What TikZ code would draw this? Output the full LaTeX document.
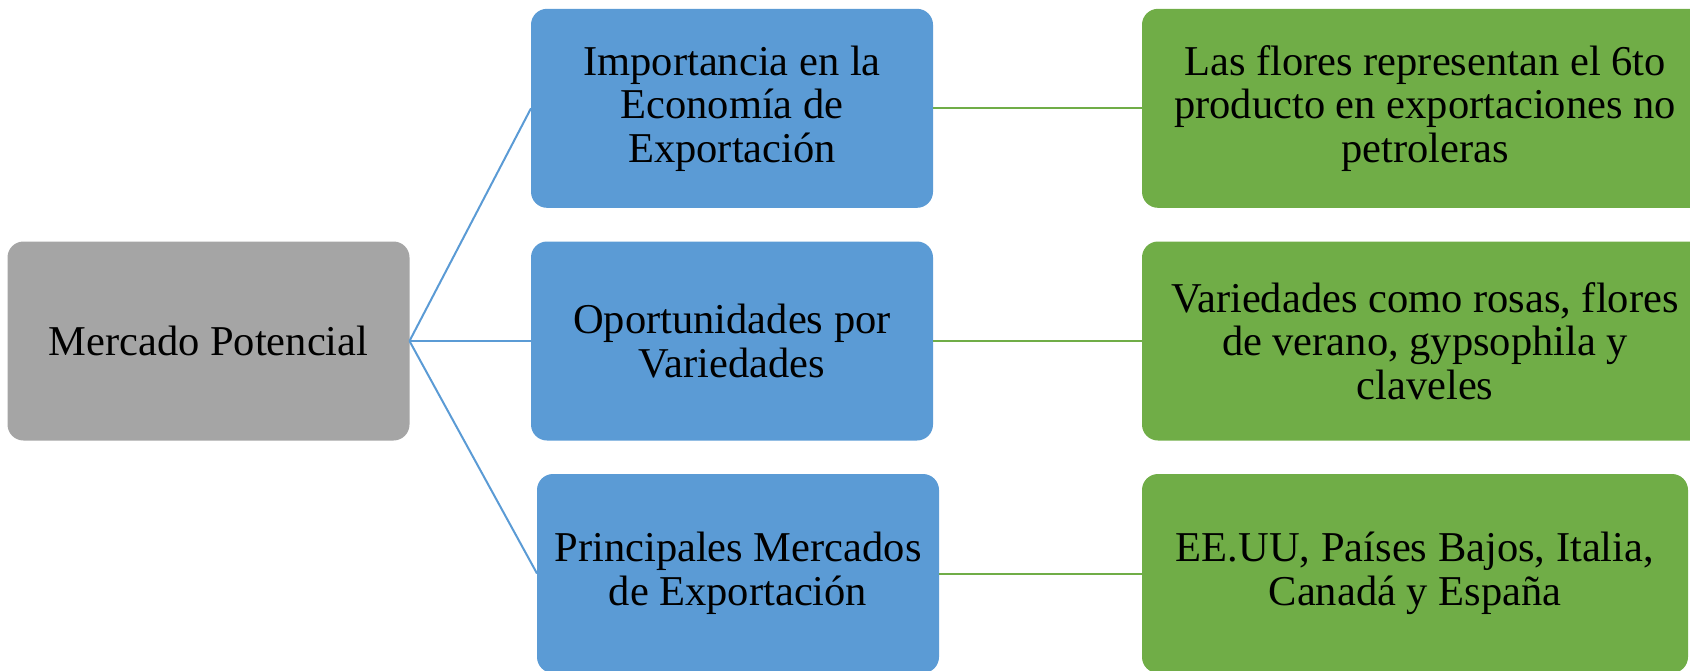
\documentclass[tikz,border=0pt]{standalone}
\usepackage{fontspec}
\setmainfont{Liberation Serif}
\definecolor{boxgray}{HTML}{A5A5A5}
\definecolor{boxblue}{HTML}{5B9BD5}
\definecolor{boxgreen}{HTML}{70AD47}
\tikzset{
  card/.style={rounded corners=16pt, inner sep=0pt, outer sep=0pt, align=center,
    minimum height=199pt, font=\fontsize{42.5}{43.5}\selectfont, text=black},
  rootbox/.style={card, fill=boxgray, minimum width=402pt},
  midbox/.style={card, fill=boxblue, minimum width=402pt},
  leafbox/.style={card, fill=boxgreen},
  bluelink/.style={draw=boxblue, line width=2pt},
  greenlink/.style={draw=boxgreen, line width=2pt}
}
\begin{document}
\begin{tikzpicture}[x=1pt,y=-1pt]
\useasboundingbox (0,0) rectangle (1690,670);
\clip (0,0) rectangle (1690,670);
\node[rootbox] (root) at (208.5,341) {Mercado Potencial};
\node[midbox] (b1) at (732,108.3) {Importancia en la\\Economía de\\Exportación};
\node[midbox] (b2) at (732,341) {Oportunidades por\\Variedades};
\node[midbox] (b3) at (738,573.5) {Principales Mercados\\de Exportación};
\node[leafbox, minimum width=566pt] (g1) at (1425,108.3) {Las flores representan el 6to\\producto en exportaciones no\\petroleras};
\node[leafbox, minimum width=566pt] (g2) at (1425,341) {Variedades como rosas, flores\\de verano, gypsophila y\\claveles};
\node[leafbox, minimum width=546pt] (g3) at (1415,573.5) {EE.UU, Países Bajos, Italia,\\Canadá y España};
\draw[bluelink] (root.east) -- (b1.west);
\draw[bluelink] (root.east) -- (b2.west);
\draw[bluelink] (root.east) -- (b3.west);
\draw[greenlink] (b1.east) -- (g1.west);
\draw[greenlink] (b2.east) -- (g2.west);
\draw[greenlink] (b3.east) -- (g3.west);
\end{tikzpicture}
\end{document}
